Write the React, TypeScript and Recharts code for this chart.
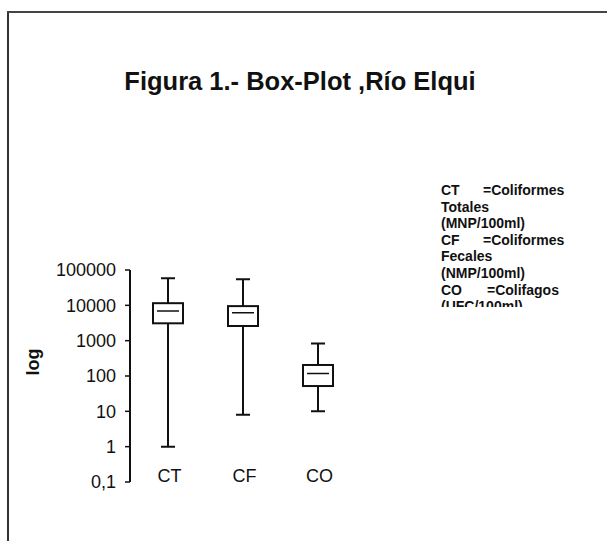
import { Bar, ComposedChart, XAxis, YAxis } from "recharts";

const categories = ["CT", "CF", "CO"];
const minValues = [1, 8, 10];
const q1Values = [3100, 2600, 52];
const medianValues = [6900, 6200, 118];
const q3Values = [11500, 9500, 205];
const maxValues = [58000, 55000, 830];
const yTicks = [0.1, 1, 10, 100, 1000, 10000, 100000];

const legendLines = [
  ["CT", "=Coliformes"],
  ["Totales", ""],
  ["(MNP/100ml)", ""],
  ["CF", "=Coliformes"],
  ["Fecales", ""],
  ["(NMP/100ml)", ""],
  ["CO", "=Colifagos"],
  ["(UFC/100ml)", ""],
];

const data = categories.map((name, i) => ({
  name,
  whisker: [minValues[i], maxValues[i]],
  box: [q1Values[i], q3Values[i]],
  median: [medianValues[i], medianValues[i]],
}));

const font = "'Liberation Sans', Arial, sans-serif";

const Whisker = (props: any) => {
  const { x, y, width, height } = props;
  const cx = x + width / 2;
  return (
    <g stroke="#111" strokeWidth={2}>
      <line x1={cx} y1={y} x2={cx} y2={y + height} />
      <line x1={cx - 7} y1={y} x2={cx + 7} y2={y} />
      <line x1={cx - 7} y1={y + height} x2={cx + 7} y2={y + height} />
    </g>
  );
};

const Box = (props: any) => {
  const { x, y, width, height } = props;
  return <rect x={x} y={y} width={width} height={height} fill="#fff" stroke="#111" strokeWidth={2} />;
};

const Median = (props: any) => {
  const { x, y, width } = props;
  return <line x1={x + 4} y1={y} x2={x + width - 4} y2={y} stroke="#111" strokeWidth={1.5} />;
};

const CategoryTick = (props: any) => {
  const { x, y, payload } = props;
  return (
    <text x={x + 2} y={y} textAnchor="middle" fontSize={18} fontFamily={font} fill="#111">
      {payload.value}
    </text>
  );
};

const App = () => {
  return (
    <div style={{ position: "absolute", left: 0, top: 0, width: 607, height: 541, background: "#fff" }}>
      <ComposedChart
        width={607}
        height={541}
        data={data}
        margin={{ top: 270, right: 252, bottom: 39, left: 0 }}
        barSize={30}
        barGap={-30}
      >
        <XAxis
          dataKey="name"
          axisLine={false}
          tickLine={false}
          tickSize={0}
          tickMargin={0}
          height={20}
          tick={<CategoryTick />}
        />
        <YAxis
          scale="log"
          domain={[0.1, 100000]}
          ticks={yTicks}
          allowDataOverflow
          width={130}
          tickSize={5}
          tickMargin={9}
          axisLine={{ stroke: "#111", strokeWidth: 2 }}
          tickLine={{ stroke: "#111", strokeWidth: 1.5 }}
          tick={{ fill: "#111", fontSize: 18, fontFamily: font }}
          tickFormatter={(v: number) => String(v).replace(".", ",")}
        />
        <Bar dataKey="whisker" shape={<Whisker />} isAnimationActive={false} />
        <Bar dataKey="box" shape={<Box />} isAnimationActive={false} />
        <Bar dataKey="median" shape={<Median />} isAnimationActive={false} />
      </ComposedChart>
      <svg
        width={607}
        height={541}
        style={{ position: "absolute", left: 0, top: 0, pointerEvents: "none" }}
      >
        <defs>
          <clipPath id="legendClip">
            <rect x={430} y={170} width={177} height={137} />
          </clipPath>
        </defs>
        <line x1={8} y1={12} x2={8} y2={541} stroke="#333" strokeWidth={2} />
        <line x1={7} y1={12} x2={607} y2={12} stroke="#444" strokeWidth={2} />
        <text x={300} y={90} textAnchor="middle" fontSize={25.5} fontWeight="bold" fontFamily={font} fill="#111">
          Figura 1.- Box-Plot ,Río Elqui
        </text>
        <text
          x={0}
          y={0}
          transform="translate(39 362) rotate(-90)"
          textAnchor="middle"
          fontSize={18}
          fontWeight="bold"
          fontFamily={font}
          fill="#111"
        >
          log
        </text>
        <g clipPath="url(#legendClip)" fontSize={14} fontWeight="bold" fontFamily={font} fill="#111">
          {legendLines.map(([a, b], i) => (
            <g key={i}>
              <text x={441} y={195 + i * 16.6}>{a}</text>
              {b && (
                <text x={a === "CO" ? 487 : 483} y={195 + i * 16.6}>
                  {b}
                </text>
              )}
            </g>
          ))}
        </g>
      </svg>
    </div>
  );
};

export default App;
